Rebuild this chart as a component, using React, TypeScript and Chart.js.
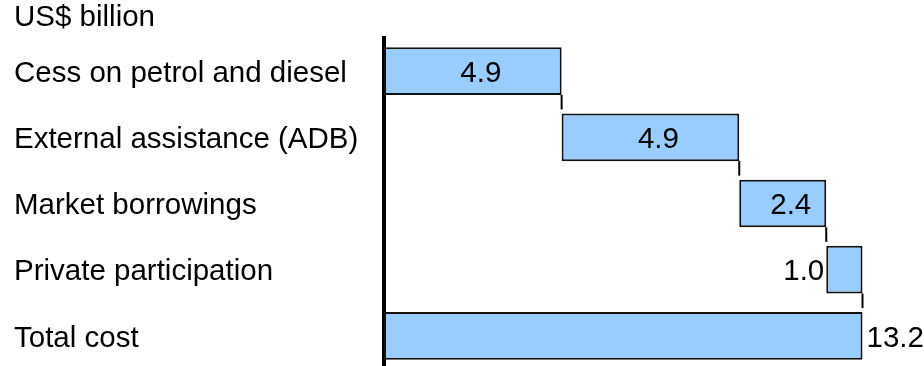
import React, { useEffect, useRef } from "react";
import { Chart, registerables } from "chart.js";

Chart.register(...registerables);

const unitLabel = "US$ billion";
const categories = [
  "Cess on petrol and diesel",
  "External assistance (ADB)",
  "Market borrowings",
  "Private participation",
  "Total cost",
];
const contributions = [4.9, 4.9, 2.4, 1.0];
const totalCost = 13.2;
const labelPlacement = ["inside", "inside", "inside", "left", "right"];

const FONT = "'Liberation Sans', Arial, Helvetica, sans-serif";
const FONT_SIZE = 29.5;

function buildRanges(): [number, number][] {
  const out: [number, number][] = [];
  let acc = 0;
  for (const v of contributions) {
    out.push([acc, +(acc + v).toFixed(2)]);
    acc = +(acc + v).toFixed(2);
  }
  out.push([0, totalCost]);
  return out;
}

export default function App() {
  const canvasRef = useRef<HTMLCanvasElement | null>(null);

  useEffect(() => {
    if (!canvasRef.current) return;
    const ranges = buildRanges();
    const values = [...contributions, totalCost];

    const connectorPlugin = {
      id: "connectors",
      afterDatasetsDraw(chart: any) {
        const meta = chart.getDatasetMeta(0);
        const xs = chart.scales.x;
        const ctx = chart.ctx;
        ctx.save();
        ctx.strokeStyle = "#000";
        ctx.lineWidth = 2;
        for (let i = 0; i < meta.data.length - 1; i++) {
          const a = meta.data[i].getProps(["y", "height"], true);
          const b = meta.data[i + 1].getProps(["y", "height"], true);
          const x = xs.getPixelForValue(ranges[i][1]);
          const y1 = a.y + a.height / 2;
          const y2 = b.y - b.height / 2 - 4;
          ctx.beginPath();
          ctx.moveTo(x, y1);
          ctx.lineTo(x, y2);
          ctx.stroke();
        }
        ctx.restore();
      },
    };

    const valueLabelPlugin = {
      id: "valueLabels",
      afterDatasetsDraw(chart: any) {
        const meta = chart.getDatasetMeta(0);
        const ctx = chart.ctx;
        ctx.save();
        ctx.font = `${FONT_SIZE}px ${FONT}`;
        ctx.fillStyle = "#000";
        ctx.textBaseline = "middle";
        meta.data.forEach((el: any, i: number) => {
          const p = el.getProps(["x", "y", "base"], true);
          const left = Math.min(p.x, p.base);
          const right = Math.max(p.x, p.base);
          const text = values[i].toFixed(1);
          const y = p.y + 2.5;
          if (labelPlacement[i] === "inside") {
            ctx.textAlign = "center";
            ctx.fillText(text, (left + right) / 2 + 8, y);
          } else if (labelPlacement[i] === "left") {
            ctx.textAlign = "right";
            ctx.fillText(text, left - 2, y);
          } else {
            ctx.textAlign = "left";
            ctx.fillText(text, right + 4, y);
          }
        });
        ctx.restore();
      },
    };

    const chart = new Chart(canvasRef.current, {
      type: "bar",
      data: {
        labels: categories,
        datasets: [
          {
            data: ranges as any,
            backgroundColor: "#99CCFF",
            borderColor: "#111",
            borderWidth: 2,
            borderSkipped: false,
            barPercentage: 0.72,
            categoryPercentage: 1,
          },
        ],
      },
      options: {
        indexAxis: "y",
        animation: false,
        responsive: false,
        maintainAspectRatio: false,
        layout: { padding: { left: 14, right: 32.5, top: 0, bottom: 0 } },
        plugins: {
          legend: { display: false },
          tooltip: { enabled: false },
          title: {
            display: true,
            text: unitLabel,
            align: "start",
            color: "#000",
            font: { family: FONT, size: FONT_SIZE, lineHeight: 1, weight: "normal" },
            padding: { top: 3.5, bottom: 5 },
          },
        },
        scales: {
          x: {
            display: false,
            min: 0,
            max: 14,
            grid: { display: false },
          },
          y: {
            z: 1,
            grid: { display: false, drawTicks: false },
            border: { display: true, color: "#000", width: 4 },
            ticks: {
              crossAlign: "far",
              color: "#000",
              font: { family: FONT, size: FONT_SIZE },
              padding: 0,
              labelOffset: 2.5,
            },
            afterFit(scale: any) {
              scale.width = 370;
              scale.paddingTop = 0;
              scale.paddingBottom = 0;
            },
          },
        },
      },
      plugins: [connectorPlugin, valueLabelPlugin],
    });
    return () => chart.destroy();
  }, []);

  return (
    <div
      style={{
        position: "fixed",
        left: 0,
        top: 0,
        width: 924,
        height: 366,
        overflow: "hidden",
        background: "#fff",
      }}
    >
      <canvas ref={canvasRef} width={924} height={369} style={{ display: "block" }} />
    </div>
  );
}
